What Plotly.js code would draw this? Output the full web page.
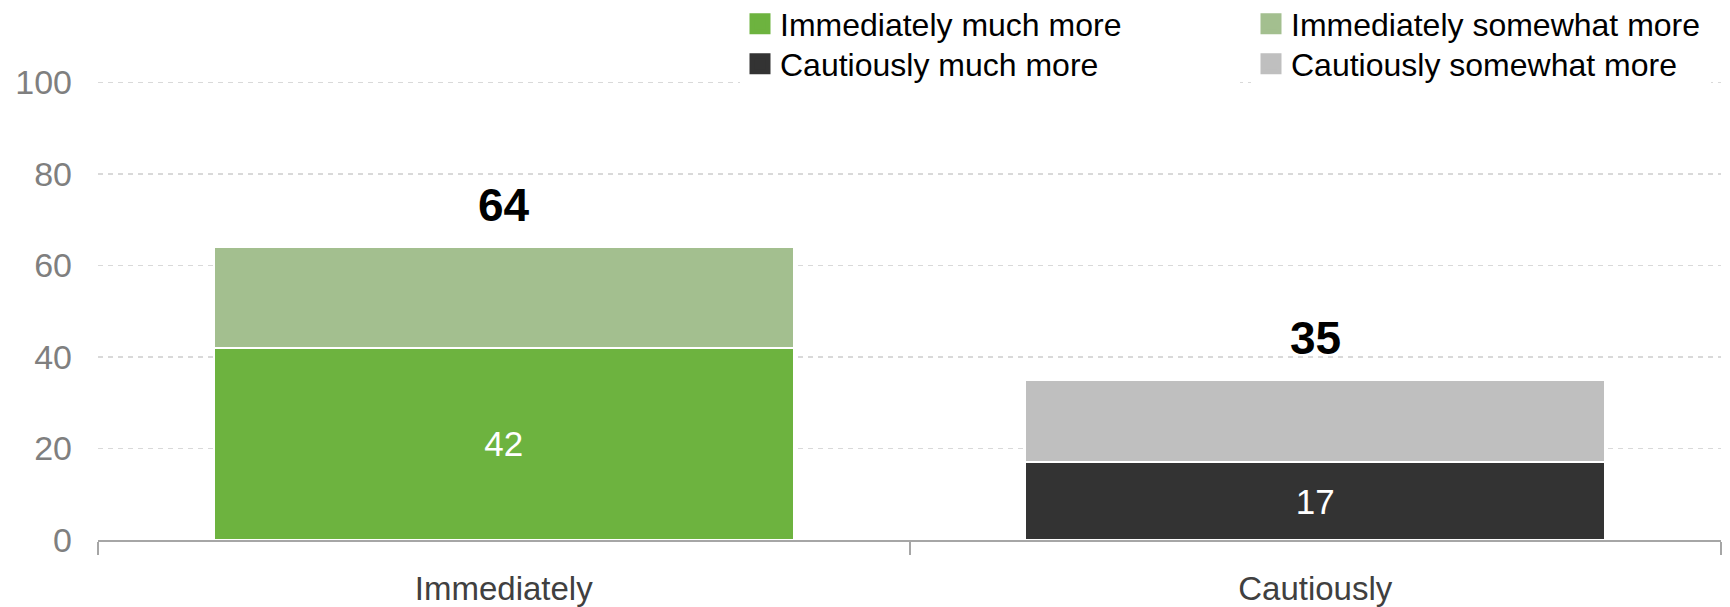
<!DOCTYPE html>
<html><head><meta charset="utf-8">
<script src="https://cdn.plot.ly/plotly-3.0.1.min.js"></script>
<style>html,body{margin:0;padding:0;background:#fff;}</style>
</head><body><div id="chart" style="width:1730px;height:607px;"></div>
<script>
const categories = ['Immediately', 'Cautiously'];
const seriesNames = ['Immediately much more', 'Immediately somewhat more', 'Cautiously much more', 'Cautiously somewhat more'];
const muchMore = [42, 17];
const somewhatMore = [22, 18];
const muchColors = ['#6db33f', '#333333'];
const somewhatColors = ['#a3bf8f', '#bfbfbf'];
const legendColors = ['#6db33f', '#a3bf8f', '#333333', '#bfbfbf'];
const yTicks = [0, 20, 40, 60, 80, 100];
const totals = categories.map((c, i) => muchMore[i] + somewhatMore[i]);

const FONT = 'Liberation Sans, Arial, Helvetica, sans-serif';

const traces = [
  {
    type: 'bar', x: categories, y: muchMore,
    marker: {color: muchColors, line: {color: '#ffffff', width: 2}},
    text: muchMore.map(String), textposition: 'inside', insidetextanchor: 'middle',
    textfont: {family: FONT, size: 35, color: '#ffffff'},
    showlegend: false, hoverinfo: 'x+y'
  },
  {
    type: 'bar', x: categories, y: somewhatMore,
    marker: {color: somewhatColors, line: {color: '#ffffff', width: 2}},
    showlegend: false, hoverinfo: 'x+y'
  }
];
// bottom legend row is drawn first (white background hides the top gridline),
// top row is drawn last with a transparent background
const legendOrder = [2, 3, 0, 1];
const legendIds = ['legend', 'legend2', 'legend3', 'legend4'];
legendOrder.forEach((s, k) => {
  traces.push({
    type: 'scatter', mode: 'markers', x: [null], y: [null], name: seriesNames[s],
    marker: {symbol: 'square', size: 16, color: legendColors[s], line: {color: legendColors[s], width: 5}},
    legend: legendIds[k], showlegend: true, hoverinfo: 'skip'
  });
});

function legendBox(x, y, bg, entrywidth) {
  const o = {
    xref: 'container', yref: 'container', x: x, y: y, xanchor: 'left', yanchor: 'middle',
    bgcolor: bg, borderwidth: 0, font: {family: FONT, size: 32, color: '#000000'},
    itemwidth: 30, itemclick: false, itemdoubleclick: false, orientation: 'h'
  };
  if (entrywidth) o.entrywidth = entrywidth;
  return o;
}
const colX = [740 / 1730, 1251 / 1730];
const rowY = [1 - 24 / 607, 1 - 64 / 607];
const CLEAR = 'rgba(0,0,0,0)';

const layout = {
  width: 1730, height: 607,
  margin: {l: 98, r: 9, t: 78, b: 67, autoexpand: false},
  paper_bgcolor: '#ffffff', plot_bgcolor: '#ffffff',
  font: {family: FONT},
  barmode: 'stack', bargap: 0.285,
  xaxis: {
    type: 'category', range: [-0.5, 1.5], automargin: false,
    showline: true, linecolor: '#a6a6a6', linewidth: 2,
    ticks: 'outside', tickson: 'boundaries', ticklen: 13, tickwidth: 2, tickcolor: '#a6a6a6',
    tickfont: {family: FONT, size: 33, color: '#404040'}, tickangle: 0, ticklabelstandoff: 18,
    showgrid: false, zeroline: false, fixedrange: true
  },
  yaxis: {
    range: [0, 101], tickvals: yTicks, ticktext: yTicks.map(String), automargin: false,
    showgrid: true, gridcolor: '#d9d9d9', griddash: '5px,5px', gridwidth: 1.5,
    zeroline: false, showline: false, ticks: '',
    tickfont: {family: FONT, size: 34, color: '#7f7f7f'},
    ticklabelstandoff: 25, fixedrange: true
  },
  legend: legendBox(colX[0], rowY[1], '#ffffff', 455),
  legend2: legendBox(colX[1], rowY[1], '#ffffff', 415),
  legend3: legendBox(colX[0], rowY[0], CLEAR, 0),
  legend4: legendBox(colX[1], rowY[0], CLEAR, 0),
  annotations: categories.map((c, i) => ({
    x: c, y: totals[i], xref: 'x', yref: 'y', text: '<b>' + totals[i] + '</b>',
    showarrow: false, yanchor: 'bottom', yshift: 14,
    font: {family: FONT, size: 46, color: '#000000'}
  }))
};

Plotly.newPlot('chart', traces, layout, {displayModeBar: false, staticPlot: true});
</script>
</body></html>
